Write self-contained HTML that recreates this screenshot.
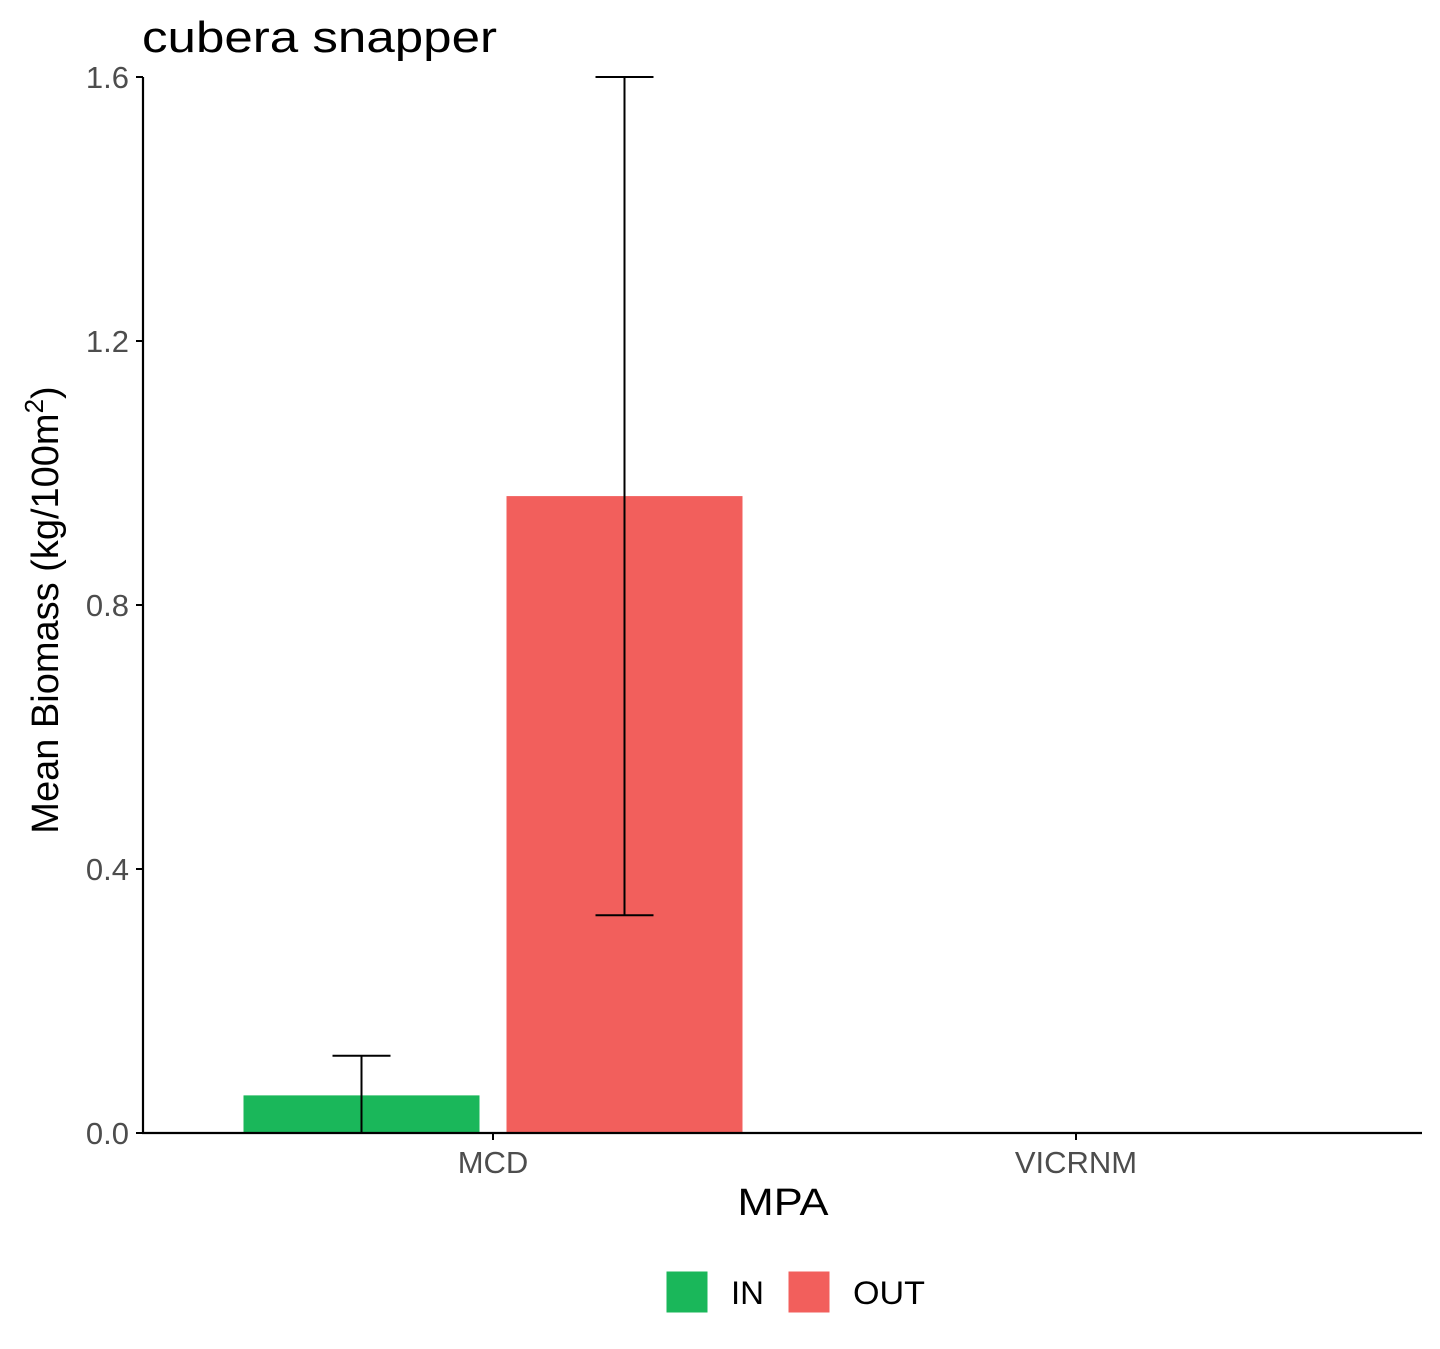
<!DOCTYPE html>
<html><head><meta charset="utf-8"><style>
body{margin:0;background:#fff;font-family:"Liberation Sans",Arial,sans-serif}
svg text{font-family:"Liberation Sans",Arial,sans-serif}
</style></head><body>
<svg id="chart" width="1440" height="1344" xmlns="http://www.w3.org/2000/svg">
<text x="142" y="52" font-size="44" textLength="355" lengthAdjust="spacingAndGlyphs" fill="#000">cubera snapper</text>
<g id="yaxis"></g>
<g id="xaxis"></g>
<g id="bars"></g>
<g id="errs"></g>
<line x1="143" y1="77" x2="143" y2="1134" stroke="#000" stroke-width="2.2"/>
<line x1="142" y1="1133" x2="1422" y2="1133" stroke="#000" stroke-width="2.2"/>
<text transform="translate(58,610) rotate(-90)" text-anchor="middle" font-size="38" fill="#000">Mean Biomass (kg/100m<tspan dy="-15" font-size="26">2</tspan><tspan dy="15">)</tspan></text>
<text x="783" y="1215" text-anchor="middle" font-size="38" textLength="91" lengthAdjust="spacingAndGlyphs" fill="#000">MPA</text>
<g>
<rect x="666" y="1271" width="42" height="42" fill="#1AB75A" stroke="#fff"/>
<text x="731" y="1304" font-size="32" textLength="33" lengthAdjust="spacingAndGlyphs">IN</text>
<rect x="788" y="1271" width="42" height="42" fill="#F25F5C" stroke="#fff"/>
<text x="853" y="1304" font-size="32" textLength="72" lengthAdjust="spacingAndGlyphs">OUT</text>
</g>
</svg>
<script>
const categories=["MCD","VICRNM"];
const groups=["IN","OUT"];
const valuesIN=[0.057,0];
const valuesOUT=[0.965,0];
const lowIN=[0,0];
const highIN=[0.117,0];
const lowOUT=[0.33,0];
const highOUT=[1.6,0];
const yTicks=[0,0.4,0.8,1.2,1.6];
const yTickLabels=["0.0","0.4","0.8","1.2","1.6"];
const colors={IN:"#1AB75A",OUT:"#F25F5C"};
const NS="http://www.w3.org/2000/svg";
const y=v=>1133-v*660;
const xc=i=>493+i*583;
const bw=236;
function mk(tag,attrs,parent){const e=document.createElementNS(NS,tag);for(const k in attrs)e.setAttribute(k,attrs[k]);parent.appendChild(e);return e;}
const ya=document.getElementById('yaxis'),xa=document.getElementById('xaxis'),bg=document.getElementById('bars'),eg=document.getElementById('errs');
yTicks.forEach((t,i)=>{
 const l=mk('line',{x1:136,x2:143,y1:y(t),y2:y(t),stroke:'#000','stroke-width':2},ya);
 
 
 const tx=mk('text',{x:129,y:y(t)+11,'text-anchor':'end','font-size':31,fill:'#4d4d4d'},ya);
 tx.textContent=yTickLabels[i];
 
 
});
categories.forEach((c,i)=>{
 const l=mk('line',{x1:xc(i),x2:xc(i),y1:1133,y2:1140,stroke:'#000','stroke-width':2},xa);
 
 
 const tx=mk('text',{x:xc(i),y:1173,'text-anchor':'middle','font-size':31,fill:'#4d4d4d'},xa);
 tx.textContent=c;
 
 
 [[valuesIN,lowIN,highIN,'IN',-1],[valuesOUT,lowOUT,highOUT,'OUT',1]].forEach(([vals,lo,hi,g,s])=>{
  const cx=xc(i)+s*(bw/2+13.5);
  const v=vals[i];
  const r=mk('rect',{x:cx-bw/2,y:y(v),width:bw,height:Math.max(1133-y(v),0.5),fill:colors[g]},bg);
  
  
  const e=mk('path',{d:`M${cx-29},${y(hi[i])}H${cx+29}M${cx},${y(hi[i])}V${y(lo[i])}M${cx-29},${y(lo[i])}H${cx+29}`,stroke:'#000','stroke-width':2,fill:'none'},eg);
  
  
 });
});
</script>
</body></html>
